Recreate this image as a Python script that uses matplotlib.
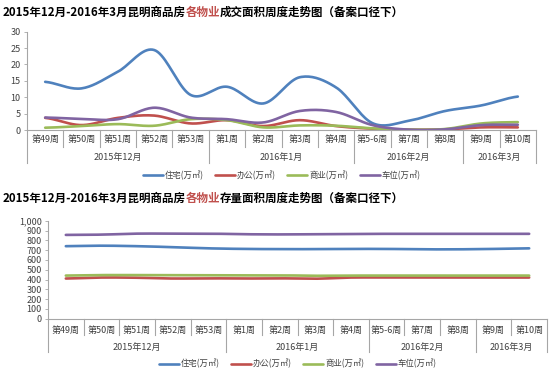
import numpy as np
import matplotlib.pyplot as plt
from matplotlib.ticker import FuncFormatter

plt.rcParams['font.family'] = ['Noto Sans CJK SC', 'DejaVu Sans']

weeks = ['第49周', '第50周', '第51周', '第52周', '第53周', '第1周', '第2周', '第3周',
         '第4周', '第5-6周', '第7周', '第8周', '第9周', '第10周']
months = ['2015年12月', '2016年1月', '2016年2月', '2016年3月']
month_spans = [5, 4, 3, 2]
series_names = ['住宅(万㎡)', '办公(万㎡)', '商业(万㎡)', '车位(万㎡)']
colors = ['#4f81bd', '#c0504d', '#9bbb59', '#8064a2']

# 成交面积
deal_house = [14.7, 12.7, 17.8, 24.4, 10.7, 13.2, 8.1, 16.1, 13.0, 2.1, 2.8, 5.8, 7.5, 10.2]
deal_office = [3.7, 1.5, 3.7, 4.4, 2.0, 3.0, 1.2, 3.0, 1.2, 0.4, 0.1, 0.2, 0.8, 0.8]
deal_shop = [0.7, 1.2, 1.8, 1.3, 3.3, 3.0, 0.8, 1.4, 1.3, 0.5, 0.1, 0.3, 2.0, 2.4]
deal_park = [3.8, 3.4, 3.3, 6.8, 3.8, 3.3, 2.3, 5.8, 5.5, 1.5, 0.1, 0.2, 1.5, 1.6]

# 存量面积
stock_house = [740, 745, 740, 730, 718, 712, 710, 710, 712, 712, 708, 708, 712, 718]
stock_office = [410, 420, 418, 410, 412, 410, 412, 408, 420, 420, 420, 420, 420, 420]
stock_shop = [440, 445, 445, 445, 443, 443, 443, 438, 440, 440, 440, 440, 440, 440]
stock_park = [855, 858, 868, 868, 868, 862, 860, 862, 865, 866, 866, 866, 866, 866]


def smooth(y, n=20):
    # Catmull-Rom style curve through the points (like Excel smoothed lines)
    y = np.asarray(y, float)
    x = np.arange(len(y), dtype=float)
    p = np.concatenate([[y[0]], y, [y[-1]]])
    xs, ys = [], []
    for i in range(len(y) - 1):
        t = np.linspace(0, 1, n, endpoint=False)
        p0, p1, p2, p3 = p[i], p[i + 1], p[i + 2], p[i + 3]
        yy = 0.5 * ((2 * p1) + (-p0 + p2) * t + (2 * p0 - 5 * p1 + 4 * p2 - p3) * t ** 2
                    + (-p0 + 3 * p1 - 3 * p2 + p3) * t ** 3)
        xs.append(x[i] + t)
        ys.append(yy)
    xs.append([x[-1]])
    ys.append([y[-1]])
    return np.concatenate(xs), np.concatenate(ys)


def draw(ax, data, ylim, yticks, wk_y, mo_y, wk_sep, mo_sep, leg_y, fmt=None):
    for vals, c, name in zip(data, colors, series_names):
        xs, ys = smooth(vals)
        ax.plot(xs, ys, color=c, lw=1.9, label=name, solid_capstyle='round')
    ax.set_xlim(-0.5, len(weeks) - 0.5)
    ax.set_ylim(*ylim)
    ax.set_yticks(yticks)
    if fmt:
        ax.yaxis.set_major_formatter(FuncFormatter(fmt))
    ax.set_xticks([])
    for s in ['top', 'right']:
        ax.spines[s].set_visible(False)
    for s in ['left', 'bottom']:
        ax.spines[s].set_color('#a6a6a6')
        ax.spines[s].set_linewidth(0.8)
    ax.tick_params(axis='y', labelsize=6.5, colors='#404040', length=2.5, width=0.6, pad=2)
    ax.tick_params(axis='y', color='#a6a6a6')
    tr = ax.get_xaxis_transform()
    for i, w in enumerate(weeks):
        ax.text(i, wk_y, w, transform=tr, ha='center', va='center', fontsize=6.5, color='#404040')
    # separators
    bounds = np.cumsum([0] + month_spans)
    for k in range(len(weeks) + 1):
        bottom = mo_sep if k in bounds else wk_sep
        ax.plot([k - 0.5, k - 0.5], [0, bottom], transform=tr, color='#a6a6a6', lw=0.8, clip_on=False)
    for m, a, b in zip(months, bounds[:-1], bounds[1:]):
        ax.text((a + b - 1) / 2, mo_y, m, transform=tr, ha='center', va='center', fontsize=6.5, color='#404040')
    ax.legend(loc='center', bbox_to_anchor=(0.5, leg_y), ncol=4, frameon=False, fontsize=6,
              handlelength=2.4, columnspacing=1.4, handletextpad=0.2, labelcolor='#404040')


fig = plt.figure(figsize=(5.5, 3.74), dpi=100)

ax1 = fig.add_axes([27 / 550, 1 - 130 / 374, 509 / 550, 98.3 / 374])
draw(ax1, [deal_house, deal_office, deal_shop, deal_park], (0, 30), range(0, 31, 5),
     -0.10, -0.275, -0.173, -0.336, -0.46)

ax2 = fig.add_axes([48 / 550, 1 - 318.7 / 374, 499 / 550, 98 / 374])
draw(ax2, [stock_house, stock_office, stock_shop, stock_park], (0, 1000), range(0, 1001, 100),
     -0.115, -0.29, -0.166, -0.337, -0.46, fmt=lambda v, p: f'{int(v):,}')


def title(y, mid):
    x0 = 3 / 550
    fs = 8.3
    t1 = fig.text(x0, y, '2015年12月-2016年3月昆明商品房', fontsize=fs, fontweight='bold', va='center')
    r = fig.canvas.get_renderer()
    x1 = t1.get_window_extent(renderer=r).x1 / fig.dpi / 5.5
    t2 = fig.text(x1, y, '各物业', fontsize=fs, fontweight='bold', color='#c0504d', va='center')
    x2 = t2.get_window_extent(renderer=r).x1 / fig.dpi / 5.5 - 1 / 550
    fig.text(x2, y, mid + '面积周度走势图（备案口径下）', fontsize=fs, fontweight='bold', va='center')


title(1 - 12 / 374, '成交')
title(1 - 198 / 374, '存量')

fig.savefig('out.png', dpi=100)
